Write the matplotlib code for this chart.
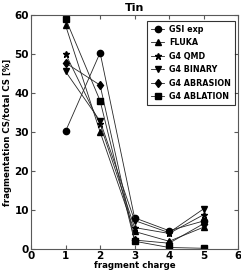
import numpy as np
import matplotlib
matplotlib.use("Agg")
import matplotlib.pyplot as plt

charge = [1, 2, 3, 4, 5]
gsi_exp = [30.2, 50.3, 8.0, 4.7, 7.2]
fluka = [57.3, 30.0, 4.5, 2.0, 5.6]
g4_qmd = [50.0, 32.0, 5.5, 4.0, 8.8]
g4_binary = [45.5, 32.8, 7.3, 4.2, 10.3]
g4_abrasion = [47.7, 42.0, 2.3, 1.5, 6.5]
g4_ablation = [59.0, 38.0, 2.0, 0.4, 0.2]

series = [("GSI exp", gsi_exp, "o"),
          ("FLUKA", fluka, "^"),
          ("G4 QMD", g4_qmd, "*"),
          ("G4 BINARY", g4_binary, "v"),
          ("G4 ABRASION", g4_abrasion, "d"),
          ("G4 ABLATION", g4_ablation, "s")]

plt.rcParams['font.weight'] = 'bold'
plt.rcParams['axes.labelweight'] = 'bold'
plt.rcParams['font.size'] = 7

fig = plt.figure(figsize=(2.41, 2.71), dpi=100)
ax = fig.add_axes([0.129, 0.081, 0.859, 0.864])
for name, vals, m in series:
    ax.plot(charge, vals, color="0.15", lw=0.6, marker=m, ms=4.5,
            mfc="black", mec="black", label=name)

ax.set_xlim(0, 6)
ax.set_ylim(0, 60)
ax.set_xticks(range(7))
ax.set_yticks([0, 10, 20, 30, 40, 50, 60])
for s in ax.spines.values():
    s.set_color("0.35")
    s.set_linewidth(0.8)
ax.tick_params(direction="in", top=True, right=True, length=3, pad=1.5,
               labelsize=7.5, color="0.35")
ax.set_xlabel("fragment charge", fontsize=6.2, labelpad=0)
ax.set_ylabel("fragmentation CS/total CS [%]", fontsize=6.2, labelpad=2)
ax.set_title("Tin", fontsize=8, fontweight="bold", pad=3)
leg = ax.legend(loc="upper right", fontsize=5.8, frameon=True, fancybox=False,
                edgecolor="black", handlelength=1.6, handletextpad=0.6,
                borderpad=0.5, labelspacing=0.55, borderaxespad=0,
                bbox_to_anchor=(0.985, 0.975))
leg.get_frame().set_linewidth(0.8)
fig.savefig("out.png", dpi=100)
